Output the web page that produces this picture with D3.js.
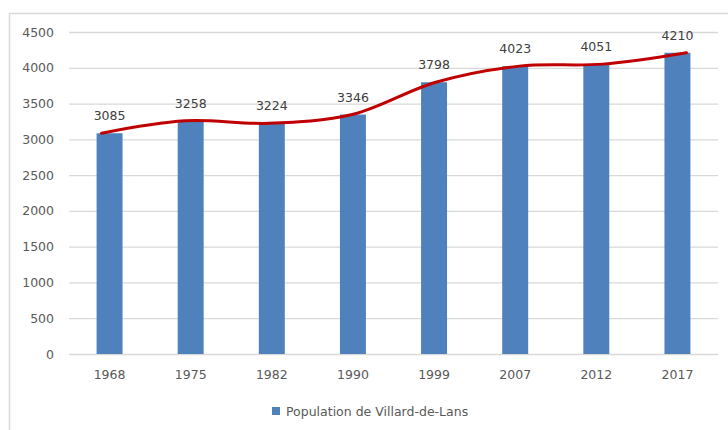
<!DOCTYPE html>
<html>
<head>
<meta charset="utf-8">
<script src="https://cdn.jsdelivr.net/npm/d3@7"></script>
<style>
  body { margin: 0; background: #fff; }
  text { font-family: "DejaVu Sans", sans-serif; }
</style>
</head>
<body>
<script>
// données
var years = ['1968', '1975', '1982', '1990', '1999', '2007', '2012', '2017'];
var population = [3085, 3258, 3224, 3346, 3798, 4023, 4051, 4210];
var yTicks = [0, 500, 1000, 1500, 2000, 2500, 3000, 3500, 4000, 4500];
var seriesName = 'Population de Villard-de-Lans';

var W = 728, H = 430;
var mLeft = 69, mRight = 718, mTop = 32, mBottom = 354;

var svg = d3.select('body')
  .append('svg')
  .attr('width', W)
  .attr('height', H);

// cadre
svg.append('path')
  .attr('d', 'M9.5,' + H + 'V13.5H' + W)
  .attr('fill', 'none')
  .attr('stroke', '#d9d9d9')
  .attr('stroke-width', 1.5);

var x = d3.scaleBand()
  .domain(years)
  .range([mLeft, mRight])
  .paddingInner(0.68)
  .paddingOuter(0.34);

var y = d3.scaleLinear()
  .domain([0, 4500])
  .range([mBottom, mTop]);

// grille + axe y
var yAxis = svg.append('g')
  .attr('transform', 'translate(' + mLeft + ',0)')
  .call(d3.axisLeft(y).tickValues(yTicks).tickFormat(d3.format('d'))
    .tickSize(-(mRight - mLeft)).tickPadding(15));
yAxis.select('.domain').remove();
yAxis.selectAll('line').attr('stroke', '#d9d9d9').attr('stroke-width', 1.3);
yAxis.selectAll('text')
  .attr('fill', '#595959')
  .style('font-size', '12.5px');

// axe x
var xAxis = svg.append('g')
  .attr('transform', 'translate(0,' + mBottom + ')')
  .call(d3.axisBottom(x).tickSize(0).tickPadding(16));
xAxis.select('.domain').remove();
xAxis.selectAll('text')
  .attr('fill', '#595959')
  .style('font-size', '12.5px');

// barres
svg.append('g')
  .selectAll('rect')
  .data(population)
  .enter()
    .append('rect')
      .attr('x', function(d, i){ return x(years[i]); })
      .attr('y', function(d){ return y(d); })
      .attr('width', x.bandwidth())
      .attr('height', function(d){ return mBottom - y(d); })
      .attr('fill', '#4f81bd');

// courbe
var xLine = d3.scalePoint()
  .domain(years)
  .range([x(years[0]) + x.bandwidth() / 2 - 8, x(years[years.length - 1]) + x.bandwidth() / 2 + 9]);

var line = d3.line()
  .x(function(d, i){ return xLine(years[i]); })
  .y(function(d){ return y(d); })
  .curve(d3.curveCatmullRom.alpha(0.5));

svg.append('path')
  .datum(population)
  .attr('d', line)
  .attr('fill', 'none')
  .attr('stroke', '#c00000')
  .attr('stroke-width', 3)
  .attr('stroke-linecap', 'round');

// étiquettes
svg.append('g')
  .selectAll('text')
  .data(population)
  .enter()
    .append('text')
      .text(function(d){ return d; })
      .attr('x', function(d, i){ return x(years[i]) + x.bandwidth() / 2; })
      .attr('y', function(d){ return y(d) - 13; })
      .attr('text-anchor', 'middle')
      .attr('fill', '#404040')
      .style('font-size', '12.5px');

// légende
var legend = svg.append('g')
  .attr('transform', 'translate(272,407)');
legend.append('rect')
  .attr('width', 8)
  .attr('height', 8)
  .attr('fill', '#4f81bd');
legend.append('text')
  .attr('x', 14)
  .attr('y', 8.5)
  .attr('fill', '#595959')
  .style('font-size', '12.5px')
  .text(seriesName);
</script>
</body>
</html>
